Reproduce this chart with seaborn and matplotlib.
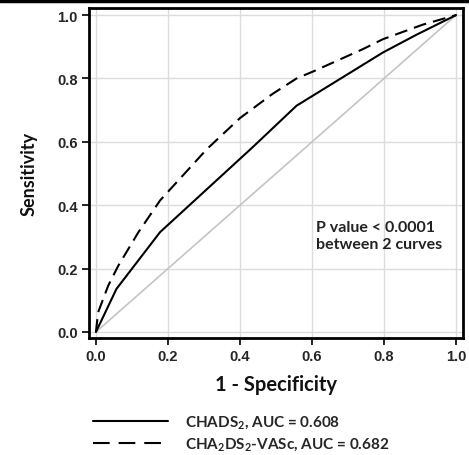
import matplotlib
matplotlib.use("Agg")
import matplotlib.pyplot as plt
from matplotlib.lines import Line2D
import seaborn as sns
import pandas as pd

# ROC points
fpr_chads = [0.0, 0.057, 0.178, 0.437, 0.557, 0.797, 0.89, 1.0]
tpr_chads = [0.0, 0.136, 0.315, 0.585, 0.714, 0.882, 0.938, 1.0]
fpr_vasc = [0.0, 0.006, 0.034, 0.062, 0.118, 0.178, 0.308, 0.40, 0.49, 0.557, 0.603, 0.742, 0.797, 0.908, 1.0]
tpr_vasc = [0.0, 0.062, 0.146, 0.209, 0.315, 0.415, 0.577, 0.675, 0.751, 0.80, 0.822, 0.893, 0.924, 0.97, 1.0]
labels = [r"CHADS$_\mathbf{2}$, AUC = 0.608", r"CHA$_\mathbf{2}$DS$_\mathbf{2}$-VASc, AUC = 0.682"]
ticks = [0.0, 0.2, 0.4, 0.6, 0.8, 1.0]

df = pd.concat([
    pd.DataFrame({"fpr": fpr_chads, "tpr": tpr_chads, "score": labels[0]}),
    pd.DataFrame({"fpr": fpr_vasc, "tpr": tpr_vasc, "score": labels[1]}),
])

sns.set_style("whitegrid")
plt.rcParams["font.family"] = ["Lato", "DejaVu Sans"]
plt.rcParams["mathtext.fontset"] = "custom"
plt.rcParams["mathtext.bf"] = "Lato:bold"
plt.rcParams["mathtext.rm"] = "Lato:bold"

fig = plt.figure(figsize=(4.69, 4.56), dpi=100)
ax = fig.add_axes([0.19, 0.2566, 0.797, 0.7234])

# reference diagonal
ax.plot([0, 1], [0, 1], color="#c4c4c4", lw=1.2, zorder=1)

sns.lineplot(data=df, x="fpr", y="tpr", hue="score", style="score",
             palette=["black", "black"], dashes=[(None, None), (6.2, 3.4)],
             sort=False, estimator=None, lw=1.5, ax=ax, legend=False)

ax.set_xlim(-0.019, 1.019)
ax.set_ylim(-0.019, 1.022)
ax.set_xticks(ticks)
ax.set_yticks(ticks)
tick_font = {"family": "Liberation Sans", "weight": "bold", "size": 10.5}
ax.set_xticklabels([f"{t:.1f}" for t in ticks], fontdict=tick_font, color="#262626")
ax.set_yticklabels([f"{t:.1f}" for t in ticks], fontdict=tick_font, color="#262626")
ax.grid(color="#dcdcdc", lw=1)
ax.tick_params(axis="both", direction="out", length=5, width=1.2, color="black", pad=3, bottom=True, left=True)
for s in ax.spines.values():
    s.set_color("black")
    s.set_linewidth(2)

ax.set_xlabel("1 - Specificity", fontsize=14.5, fontweight="bold", labelpad=8, color="#111111")
ax.set_ylabel("Sensitivity", fontsize=13, fontweight="bold", labelpad=14, color="#111111")

ax.text(0.61, 0.304, "P value < 0.0001\nbetween 2 curves", fontsize=11.5, fontweight="bold",
        color="#222222", va="center", ha="left", linespacing=1.3)

handles = [Line2D([], [], color="black", lw=1.5),
           Line2D([], [], color="black", lw=1.5, dashes=(8, 4.3))]
leg = fig.legend(handles, labels, loc="upper left", bbox_to_anchor=(0.169, 0.12),
                 frameon=False, handlelength=4.9, handletextpad=1.1, labelspacing=0.3,
                 prop={"family": "Lato", "weight": "bold", "size": 11})

fig.add_artist(Line2D([0, 1], [0.9967, 0.9967], transform=fig.transFigure, color="black", lw=2.5))

fig.savefig("out.png", dpi=100)
